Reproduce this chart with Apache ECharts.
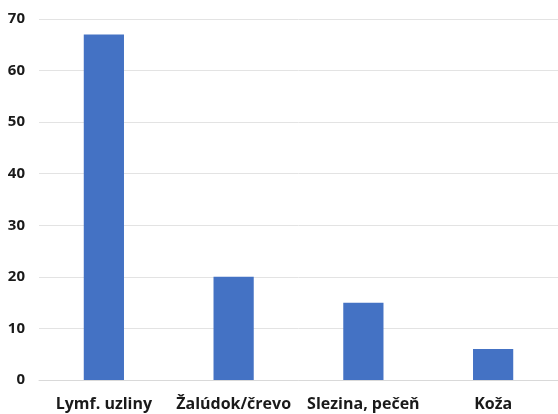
<!DOCTYPE html>
<html><head><meta charset="utf-8">
<script src="https://cdn.jsdelivr.net/npm/echarts@6/dist/echarts.min.js"></script>
<style>html,body{margin:0;padding:0;background:#fff}#c{width:558px;height:414px}</style>
</head><body><div id="c"></div>
<script>
const categories = ["Lymf. uzliny", "Žalúdok/črevo", "Slezina, pečeň", "Koža"];
const values = [67, 20, 15, 6];
const yTicks = [0, 10, 20, 30, 40, 50, 60, 70];

const chart = echarts.init(document.getElementById('c'));
chart.setOption({
  animation: false,
  grid: {left: 39, right: 0, top: 19, bottom: 34, containLabel: false},
  xAxis: {
    type: 'category', data: categories,
    axisLine: {show: true, lineStyle: {color: '#d9d9d9', width: 1}},
    axisTick: {show: false},
    axisLabel: {interval: 0, hideOverlap: false, color: '#1a1a1a', fontFamily: 'Open Sans', fontWeight: 'bold', fontSize: 16, margin: 16}
  },
  yAxis: {
    type: 'value', min: yTicks[0], max: yTicks[yTicks.length - 1], interval: 10,
    axisLine: {show: false}, axisTick: {show: false},
    splitLine: {lineStyle: {color: '#e3e3e3', width: 1}},
    axisLabel: {color: '#1a1a1a', fontFamily: 'Open Sans', fontWeight: 'bold', fontSize: 15, margin: 14}
  },
  series: [{
    type: 'bar', data: values, barWidth: '31%',
    itemStyle: {color: '#4472C4'}
  }]
});
</script></body></html>
